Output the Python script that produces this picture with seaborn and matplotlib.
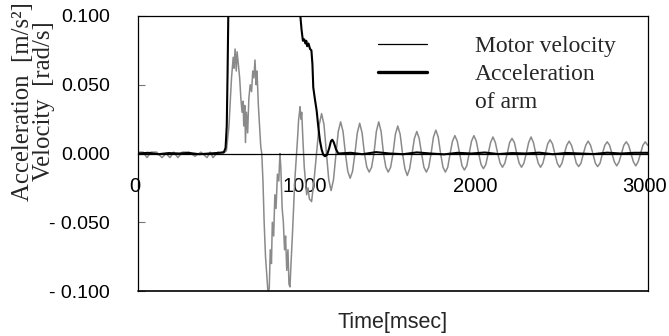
import numpy as np
import matplotlib
matplotlib.use("Agg")
import matplotlib.pyplot as plt
import matplotlib.transforms as mtransforms
import seaborn as sns
from matplotlib.lines import Line2D

# motor velocity (black trace)
vel_t = [0, 60, 120, 180, 240, 300, 360, 420, 480, 505, 515, 522, 527, 531, 535,
         950, 955, 962, 970, 978, 985, 990, 995, 1003, 1012, 1020, 1026, 1031, 1040,
         1051, 1060, 1070, 1080, 1090, 1100, 1112, 1125, 1135, 1143, 1152, 1165, 1178,
         1250, 1320, 1400, 1480, 1560, 1640, 1720, 1800, 1880, 1960, 2040, 2120, 2200,
         2280, 2360, 2440, 2520, 2600, 2680, 2760, 2840, 2920, 3000]
vel_v = [0.000, 0.0005, -0.0005, 0.0003, 0.0, 0.0004, -0.0005, 0.0, 0.0005, 0.001,
         0.004, 0.02, 0.06, 0.1, 0.14,
         0.14, 0.1, 0.09, 0.082, 0.083, 0.080, 0.082, 0.078, 0.080, 0.076, 0.075, 0.065,
         0.048, 0.040, 0.031, 0.020, 0.0095, 0.003, -0.001, -0.002, -0.001, 0.004, 0.009,
         0.010, 0.008, 0.003, 0.0,
         0.0005, -0.0005, 0.001, 0.0, -0.0005, 0.0008, 0.0, -0.0006, 0.0005, 0.0,
         0.0007, -0.0004, 0.0003, 0.0, 0.0006, -0.0005, 0.0004, 0.0, -0.0004, 0.0006,
         0.0, 0.0005, 0.0005]

# acceleration of arm (grey trace), start-up part
acc_t0 = [0, 30, 53, 75, 110, 141, 165, 188, 210, 235, 260, 300, 335, 370, 406, 425,
          441, 470, 500, 520, 535, 550, 560, 565, 571, 578, 583, 590, 598, 605, 612,
          618, 622, 628, 632, 638, 645, 652, 660, 668, 675, 682, 688, 695, 700, 708,
          715, 722, 728, 735, 742, 750, 758, 765, 772, 778, 785, 790, 798, 805, 812,
          820, 828, 835, 840, 848, 855, 862, 868, 875, 882, 888, 894, 900, 908, 915,
          922, 930, 938, 945, 950, 953, 958, 963, 970, 978, 985, 992, 1000, 1008,
          1021, 1035, 1050, 1066]
acc_v0 = [0.001, 0.001, -0.003, 0.001, 0.001, -0.003, 0.0, -0.003, 0.001, -0.003,
          0.001, 0.001, -0.002, 0.001, -0.003, 0.001, -0.003, 0.001, 0.000, 0.002,
          0.02, 0.055, 0.07, 0.062, 0.076, 0.06, 0.074, 0.065, 0.055, 0.04, 0.03,
          0.038, 0.02, 0.035, 0.008, 0.03, 0.015, 0.04, 0.05, 0.045, 0.06, 0.055,
          0.068, 0.05, 0.06, 0.035, 0.02, 0.005, 0.0, -0.02, -0.05, -0.075, -0.09,
          -0.102, -0.098, -0.07, -0.08, -0.05, -0.06, -0.03, -0.04, -0.015, -0.02,
          0.0, -0.01, -0.04, -0.05, -0.07, -0.06, -0.085, -0.07, -0.095, -0.097,
          -0.08, -0.06, -0.04, -0.02, -0.005, 0.01, 0.025, 0.03, 0.034, 0.025, 0.03,
          0.01, -0.01, -0.02, -0.03, -0.025, -0.033, -0.035, -0.02, 0.0, 0.021]

# residual vibration, sampled every 14 ms from 1080 ms
acc_t1 = np.arange(1080, 3000, 14)
acc_v1 = [0.029, 0.021, 0.001, -0.019, -0.027, -0.019, -0.001, 0.016,
          0.023, 0.016, 0.000, -0.013, -0.018, -0.013, 0.000, 0.015,
          0.022, 0.015, 0.000, -0.010, -0.0135, -0.010, 0.000, 0.016,
          0.023, 0.016, 0.000, -0.010, -0.0135, -0.010, 0.000, 0.014,
          0.020, 0.014, 0.000, -0.011, -0.016, -0.011, 0.000, 0.011,
          0.016, 0.011, 0.000, -0.010, -0.0135, -0.010, 0.000, 0.012,
          0.017, 0.012, 0.000, -0.010, -0.0135, -0.010, 0.000, 0.009,
          0.013, 0.009, 0.000, -0.009, -0.012, -0.009, 0.000, 0.009,
          0.013, 0.009, 0.000, -0.008, -0.011, -0.008, 0.000, 0.008,
          0.012, 0.008, 0.000, -0.007, -0.010, -0.007, 0.000, 0.008,
          0.011, 0.008, 0.000, -0.007, -0.010, -0.007, 0.000, 0.008,
          0.012, 0.008, 0.000, -0.007, -0.010, -0.007, 0.000, 0.007,
          0.010, 0.007, 0.000, -0.007, -0.010, -0.007, 0.000, 0.006,
          0.009, 0.006, 0.000, -0.007, -0.0095, -0.007, 0.000, 0.006,
          0.009, 0.006, 0.000, -0.007, -0.0095, -0.007, 0.000, 0.006,
          0.0085, 0.006, 0.000, -0.006, -0.009, -0.006, 0.000, 0.006,
          0.0085, 0.006, 0.000, -0.006, -0.009, -0.006, 0.000, 0.006,
          0.0085, 0.006]

xticks = [0, 1000, 2000, 3000]
xtick_labels = ["0", "1000", "2000", "3000"]
yticks = [-0.1, -0.05, 0.0, 0.05, 0.1]
ytick_labels = ["- 0.100", "- 0.050", "0.000", "0.050", "0.100"]
legend_labels = ["Motor velocity", "Acceleration", "of arm"]

sns.set_theme(style="white")
plt.rcParams['font.family'] = ['Liberation Sans', 'DejaVu Sans']

acc_t = np.concatenate([acc_t0, acc_t1])
acc_v = np.concatenate([acc_v0, acc_v1])

fig = plt.figure(figsize=(6.69, 3.36), dpi=100)
ax = fig.add_axes([0.2063, 0.1339, 0.7623, 0.8185])

sns.lineplot(x=acc_t, y=acc_v, color="#8a8a8a", linewidth=1.1, sort=False,
             estimator=None, ax=ax)
sns.lineplot(x=vel_t, y=vel_v, color="black", linewidth=1.5, sort=False,
             estimator=None, ax=ax)

ax.set_xlim(0, 3000)
ax.set_ylim(-0.1, 0.1)

for s in ax.spines.values():
    s.set_color("black")
    s.set_linewidth(0.9)
ax.spines['bottom'].set_position(('data', 0))
ax.axhline(-0.1, color="black", linewidth=1.2, clip_on=False)

ax.set_xticks(xticks)
ax.set_xticklabels(xtick_labels)
ax.set_yticks(yticks)
ax.set_yticklabels(ytick_labels)
ax.tick_params(axis='x', length=0, pad=17, labelsize=14.5, colors="black")
ax.tick_params(axis='y', direction='in', length=5, width=0.8, pad=20,
               labelsize=14, colors="#777777", labelcolor="black", left=True)

# labels sit a few pixels left of their ticks in the original
shift = mtransforms.ScaledTranslation(-3 / 100, 0, fig.dpi_scale_trans)
for lab in ax.get_xticklabels():
    lab.set_transform(lab.get_transform() + shift)

ax.set_xlabel("")
ax.text(0.5, -0.115, "Time[msec]", transform=ax.transAxes, ha="center",
        va="center", fontsize=15.5)
ax.set_ylabel("Acceleration  [m/s\u00b2]\nVelocity  [rad/s]",
              family=["Liberation Serif", "DejaVu Serif"], fontsize=17.8,
              linespacing=0.95)
ax.yaxis.set_label_coords(-0.163, 0.69)

handles = [Line2D([], [], color="black", linewidth=0.9),
           Line2D([], [], color="black", linewidth=2.4),
           Line2D([], [], color="none")]
leg = ax.legend(handles, legend_labels, loc="upper left",
                bbox_to_anchor=(0.47, 0.928), frameon=False, borderpad=0,
                borderaxespad=0, handlelength=2.1, handletextpad=2.0,
                labelspacing=0.26,
                prop={"family": ["Liberation Serif", "DejaVu Serif"], "size": 17})

fig.savefig("out.png", dpi=100)
